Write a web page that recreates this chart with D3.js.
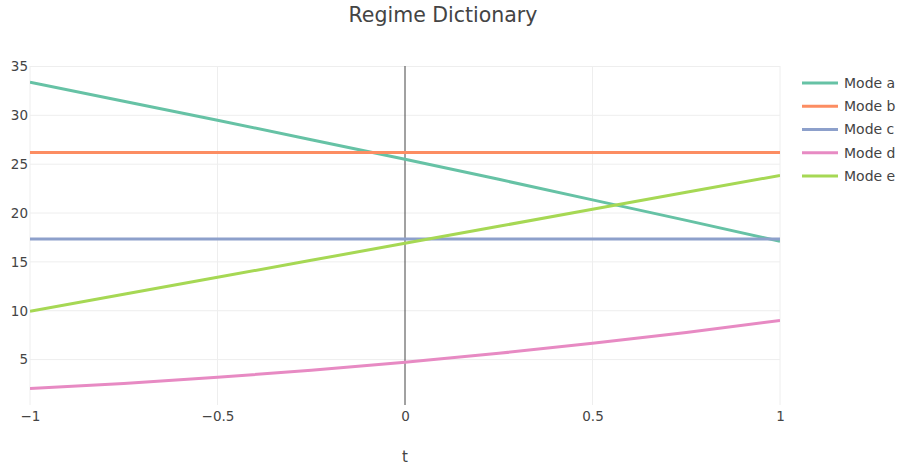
<!DOCTYPE html>
<html>
<head>
<meta charset="utf-8">
<script src="https://cdn.jsdelivr.net/npm/d3@7"></script>
<style>
  body { margin: 0; background: #fff; }
  svg { font-family: "DejaVu Sans", sans-serif; }
</style>
</head>
<body>
<svg id="chart" width="902" height="465"></svg>
<script>
const tValues = [-1, -0.75, -0.5, -0.25, 0, 0.25, 0.5, 0.75, 1];
const modeA = [33.4, 31.45, 29.5, 27.5, 25.5, 23.45, 21.35, 19.25, 17.1];
const modeB = [26.2, 26.2, 26.2, 26.2, 26.2, 26.2, 26.2, 26.2, 26.2];
const modeC = [17.35, 17.35, 17.35, 17.35, 17.35, 17.35, 17.35, 17.35, 17.35];
const modeD = [2.05, 2.56, 3.18, 3.9, 4.72, 5.64, 6.66, 7.78, 9.0];
const modeE = [9.94, 11.68, 13.42, 15.16, 16.9, 18.64, 20.38, 22.12, 23.85];
const seriesNames = ["Mode a", "Mode b", "Mode c", "Mode d", "Mode e"];
const seriesValues = [modeA, modeB, modeC, modeD, modeE];
const colors = ["#66c2a5", "#fc8d62", "#8da0cb", "#e78ac3", "#a6d854"];
const xTicks = [-1, -0.5, 0, 0.5, 1];
const yTicks = [5, 10, 15, 20, 25, 30, 35];
const titleText = "Regime Dictionary";
const xTitle = "t";

(function () {
const svg = d3.select("#chart");
const pl = 30, pr = 780, pt = 66, pb = 405;
const x = d3.scaleLinear().domain([-1, 1]).range([pl, pr]);
const y = d3.scaleLinear().domain([0.35, 35.05]).range([pb, pt]);
const fmt = v => (v < 0 ? "\u2212" : "") + Math.abs(v);

// grid
const grid = svg.append("g");
grid.selectAll("line.gy").data(yTicks).join("line")
  .attr("x1", pl).attr("x2", pr)
  .attr("y1", d => y(d)).attr("y2", d => y(d))
  .attr("stroke", "#eeeeee").attr("stroke-width", 1);
grid.selectAll("line.gx").data(xTicks.filter(d => d !== 0)).join("line")
  .attr("x1", d => x(d)).attr("x2", d => x(d))
  .attr("y1", pt).attr("y2", pb)
  .attr("stroke", "#eeeeee").attr("stroke-width", 1);

// zero line
svg.append("line")
  .attr("x1", x(0)).attr("x2", x(0)).attr("y1", pt).attr("y2", pb)
  .attr("stroke", "#444").attr("stroke-width", 1);

// axes labels
const yAxis = d3.axisLeft(y).tickValues(yTicks).tickSize(0).tickPadding(2).tickFormat(fmt);
const ya = svg.append("g").attr("transform", `translate(${pl},0)`).call(yAxis);
ya.select(".domain").remove();
ya.selectAll("text").attr("font-size", 13.5).attr("fill", "#444").attr("font-family", "DejaVu Sans");

const xAxis = d3.axisBottom(x).tickValues(xTicks).tickSize(0).tickPadding(6).tickFormat(fmt);
const xa = svg.append("g").attr("transform", `translate(0,${pb})`).call(xAxis);
xa.select(".domain").remove();
xa.selectAll("text").attr("font-size", 13.5).attr("fill", "#444").attr("font-family", "DejaVu Sans");

// clip
svg.append("clipPath").attr("id", "clip").append("rect")
  .attr("x", pl).attr("y", pt).attr("width", pr - pl).attr("height", pb - pt);

const line = d3.line().x((d, i) => x(tValues[i])).y(d => y(d));
svg.append("g").attr("clip-path", "url(#clip)")
  .selectAll("path").data(seriesValues).join("path")
  .attr("d", d => line(d))
  .attr("fill", "none")
  .attr("stroke", (d, i) => colors[i])
  .attr("stroke-width", 3);

// legend
const lg = svg.append("g");
seriesNames.forEach((name, i) => {
  const yy = 82.9 + i * 23.25;
  lg.append("line").attr("x1", 802).attr("x2", 838).attr("y1", yy).attr("y2", yy)
    .attr("stroke", colors[i]).attr("stroke-width", 3);
  lg.append("text").attr("x", 844).attr("y", yy).attr("dy", "0.35em")
    .attr("font-size", 14).attr("fill", "#444").text(name);
});

// title
svg.append("text").attr("x", 443).attr("y", 22).attr("text-anchor", "middle")
  .attr("font-size", 20.5).attr("fill", "#444").text(titleText);
svg.append("text").attr("x", x(0)).attr("y", 461.5).attr("text-anchor", "middle")
  .attr("font-size", 15).attr("fill", "#444").text(xTitle);
})();
</script>
</body>
</html>
